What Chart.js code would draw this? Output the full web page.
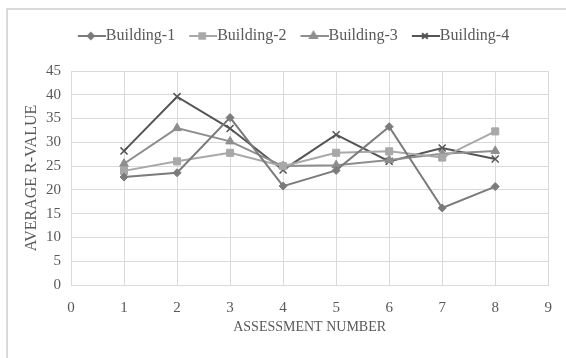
<!DOCTYPE html>
<html>
<head>
<meta charset="utf-8">
<script src="https://cdn.jsdelivr.net/npm/chart.js@4/dist/chart.umd.min.js"></script>
<style>
  body { margin: 0; background: #fff; }
  #frame { position: absolute; left: 6px; top: 8px; width: 600px; height: 400px; border: 2px solid #d9d9d9; }
  #wrap { position: absolute; left: 0; top: 0; width: 566px; height: 358px; }
</style>
</head>
<body>
<div id="frame"></div>
<div id="wrap"><canvas id="myChart"></canvas></div>
<script>
let names = ['Building-1', 'Building-2', 'Building-3', 'Building-4'];
let assessments = [1, 2, 3, 4, 5, 6, 7, 8];
let b1 = [22.7, 23.6, 35.2, 20.8, 24.1, 33.3, 16.2, 20.7];
let b2 = [24.0, 26.0, 27.8, 25.0, 27.8, 28.1, 26.8, 32.3];
let b3 = [25.5, 33.0, 30.2, 25.0, 25.2, 26.3, 27.6, 28.2];
let b4 = [28.2, 39.6, 32.9, 24.2, 31.6, 26.0, 28.8, 26.5];
let colors = ['#7b7b7b', '#a8a8a8', '#8e8e8e', '#555555'];
let markers = ['rectRot', 'rect', 'triangle', 'crossRot'];
let sizes = [4, 5, 5, 5];

let series = [b1, b2, b3, b4];

// line+marker swatch for the legend (left 8px blank so the line runs up to the text)
function swatch(i) {
    let c = document.createElement('canvas');
    c.width = 36; c.height = 12;
    let g = c.getContext('2d');
    g.strokeStyle = colors[i];
    g.fillStyle = colors[i];
    g.lineWidth = 2;
    g.beginPath(); g.moveTo(8, 6); g.lineTo(36, 6); g.stroke();
    Chart.helpers.drawPoint(g, { pointStyle: markers[i], radius: sizes[i] - 1, borderWidth: 1.5, rotation: 0 }, 21, 6);
    g.fill();
    return c;
}

let datasets = series.map((vals, i) => ({
    label: names[i],
    data: vals.map((v, k) => ({ x: assessments[k], y: v })),
    borderColor: colors[i],
    backgroundColor: colors[i],
    borderWidth: 2,
    pointStyle: markers[i],
    pointRadius: sizes[i],
    pointBorderWidth: i == 3 ? 1.5 : 1,
    showLine: true,
    tension: 0
}));

let serif = 'Liberation Serif, Times New Roman, serif';

// extra room under the legend, and nudge it a bit right
let legendGap = {
    id: 'legendGap',
    beforeInit(ch) {
        let lg = ch.legend;
        let fit = lg.fit;
        lg.fit = function () { fit.call(this); this.height += 17; };
        let draw = lg.draw;
        lg.draw = function () {
            ch.ctx.save();
            ch.ctx.translate(7, 0);
            draw.call(this);
            ch.ctx.restore();
        };
    }
};

let chart = new Chart(document.getElementById('myChart'), {
    type: 'scatter',
    data: { datasets: datasets },
    plugins: [legendGap],
    options: {
        responsive: true,
        maintainAspectRatio: false,
        animation: false,
        layout: { padding: { left: 18, right: 11, top: 14, bottom: 22 } },
        plugins: {
            tooltip: { enabled: false },
            legend: {
                position: 'top',
                labels: {
                    usePointStyle: true,
                    pointStyleWidth: 20,
                    padding: 14,
                    color: '#595959',
                    font: { family: serif, size: 16 },
                    generateLabels: (ch) => Chart.defaults.plugins.legend.labels.generateLabels(ch)
                        .map((it, i) => Object.assign(it, { pointStyle: swatch(i) }))
                }
            }
        },
        scales: {
            x: {
                type: 'linear',
                min: 0, max: 9,
                ticks: { stepSize: 1, color: '#595959', font: { family: serif, size: 15 }, padding: 14 },
                grid: { color: '#d9d9d9', drawTicks: false },
                border: { color: '#d9d9d9' },
                title: { display: true, text: 'ASSESSMENT NUMBER', color: '#595959', font: { family: serif, size: 14 }, padding: { top: 4, bottom: 0 } },
                afterFit: (s) => { s.height = 51; }
            },
            y: {
                min: 0, max: 45,
                ticks: { stepSize: 5, color: '#595959', font: { family: serif, size: 15 }, padding: 10 },
                grid: { color: '#d9d9d9', drawTicks: false },
                border: { color: '#d9d9d9' },
                title: { display: true, text: 'AVERAGE R-VALUE', color: '#595959', font: { family: serif, size: 16 }, padding: { top: 4, bottom: 0 } },
                afterFit: (s) => { s.width = 53; }
            }
        }
    }
});
</script>
</body>
</html>
